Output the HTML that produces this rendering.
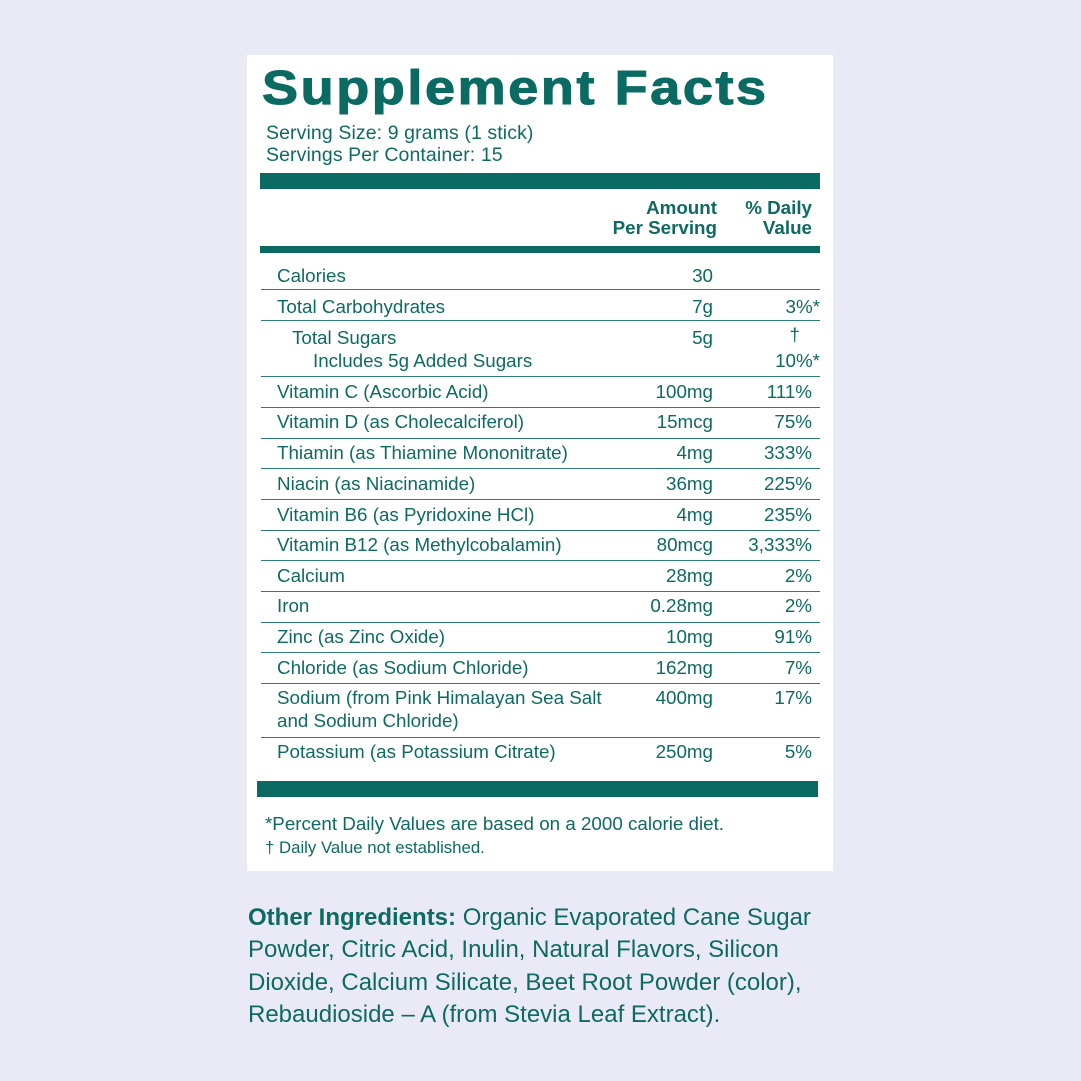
<!DOCTYPE html>
<html><head><meta charset="utf-8"><style>
body{margin:0;width:1081px;height:1081px;background:#e9eaf5;position:relative;overflow:hidden;font-family:"Liberation Sans",Arial,sans-serif;color:#0e6a62}
.p{position:absolute;left:247px;top:55px;width:586px;height:816px;background:#fff}
.a{position:absolute;white-space:nowrap;line-height:20px;font-size:18.8px}
.bar{position:absolute;background:#0b6b63}
.ln{position:absolute;left:261px;width:559px;height:1px;background:#2b7d76}
.r{text-align:right}
.oi{position:absolute;left:248px;font-size:24px;line-height:26px;white-space:nowrap;color:#0e6a62}
</style></head><body>
<div class="p"></div>
<div class="a" style="left:262px;top:58px;font-size:54px;line-height:60px;font-weight:bold;letter-spacing:2.6px;color:#0b6b63;-webkit-text-stroke:1.2px #0b6b63;transform:scaleY(0.9);transform-origin:0 50%">Supplement Facts</div>
<div class="a" style="left:266px;top:123px;font-size:19.5px;letter-spacing:0.1px">Serving Size: 9 grams (1 stick)</div>
<div class="a" style="left:266px;top:145px;font-size:19.5px;letter-spacing:0.1px">Servings Per Container: 15</div>
<div class="bar" style="left:260px;top:173px;width:560px;height:16px"></div>
<div class="a r" style="right:364px;top:198px;font-weight:bold">Amount<br>Per Serving</div>
<div class="a r" style="right:269px;top:198px;font-weight:bold">% Daily<br>Value</div>
<div class="bar" style="left:260px;top:246px;width:560px;height:7px"></div>
<div class="bar" style="left:257px;top:781px;width:561px;height:16px"></div>

<div class="ln" style="top:289px"></div>
<div class="ln" style="top:320px"></div>
<div class="ln" style="top:376px"></div>
<div class="ln" style="top:407px"></div>
<div class="ln" style="top:438px"></div>
<div class="ln" style="top:468px"></div>
<div class="ln" style="top:499px"></div>
<div class="ln" style="top:530px"></div>
<div class="ln" style="top:560px"></div>
<div class="ln" style="top:591px"></div>
<div class="ln" style="top:622px"></div>
<div class="ln" style="top:652px"></div>
<div class="ln" style="top:683px"></div>
<div class="ln" style="top:737px"></div>

<div class="a" style="left:277px;top:266px">Calories</div><div class="a r" style="right:368px;top:266px">30</div>
<div class="a" style="left:277px;top:297px">Total Carbohydrates</div><div class="a r" style="right:368px;top:297px">7g</div><div class="a r" style="right:261px;top:297px">3%*</div>
<div class="a" style="left:292px;top:328px">Total Sugars</div><div class="a r" style="right:368px;top:328px">5g</div><div class="a r" style="right:281px;top:325px">†</div>
<div class="a" style="left:313px;top:351px">Includes 5g Added Sugars</div><div class="a r" style="right:261px;top:351px">10%*</div>
<div class="a" style="left:277px;top:382px">Vitamin C (Ascorbic Acid)</div><div class="a r" style="right:368px;top:382px">100mg</div><div class="a r" style="right:269px;top:382px">111%</div>
<div class="a" style="left:277px;top:412px">Vitamin D (as Cholecalciferol)</div><div class="a r" style="right:368px;top:412px">15mcg</div><div class="a r" style="right:269px;top:412px">75%</div>
<div class="a" style="left:277px;top:443px">Thiamin (as Thiamine Mononitrate)</div><div class="a r" style="right:368px;top:443px">4mg</div><div class="a r" style="right:269px;top:443px">333%</div>
<div class="a" style="left:277px;top:474px">Niacin (as Niacinamide)</div><div class="a r" style="right:368px;top:474px">36mg</div><div class="a r" style="right:269px;top:474px">225%</div>
<div class="a" style="left:277px;top:505px">Vitamin B6 (as Pyridoxine HCl)</div><div class="a r" style="right:368px;top:505px">4mg</div><div class="a r" style="right:269px;top:505px">235%</div>
<div class="a" style="left:277px;top:535px">Vitamin B12 (as Methylcobalamin)</div><div class="a r" style="right:368px;top:535px">80mcg</div><div class="a r" style="right:269px;top:535px">3,333%</div>
<div class="a" style="left:277px;top:566px">Calcium</div><div class="a r" style="right:368px;top:566px">28mg</div><div class="a r" style="right:269px;top:566px">2%</div>
<div class="a" style="left:277px;top:596px">Iron</div><div class="a r" style="right:368px;top:596px">0.28mg</div><div class="a r" style="right:269px;top:596px">2%</div>
<div class="a" style="left:277px;top:627px">Zinc (as Zinc Oxide)</div><div class="a r" style="right:368px;top:627px">10mg</div><div class="a r" style="right:269px;top:627px">91%</div>
<div class="a" style="left:277px;top:658px">Chloride (as Sodium Chloride)</div><div class="a r" style="right:368px;top:658px">162mg</div><div class="a r" style="right:269px;top:658px">7%</div>
<div class="a" style="left:277px;top:688px">Sodium (from Pink Himalayan Sea Salt</div><div class="a r" style="right:368px;top:688px">400mg</div><div class="a r" style="right:269px;top:688px">17%</div>
<div class="a" style="left:277px;top:711px">and Sodium Chloride)</div>
<div class="a" style="left:277px;top:742px">Potassium (as Potassium Citrate)</div><div class="a r" style="right:368px;top:742px">250mg</div><div class="a r" style="right:269px;top:742px">5%</div>

<div class="a" style="left:265px;top:814px">*Percent Daily Values are based on a 2000 calorie diet.</div>
<div class="a" style="left:265px;top:838px;font-size:16.8px">† Daily Value not established.</div>

<div class="oi" style="top:905px"><b>Other Ingredients:</b> Organic Evaporated Cane Sugar</div>
<div class="oi" style="top:937px">Powder, Citric Acid, Inulin, Natural Flavors, Silicon</div>
<div class="oi" style="top:970px">Dioxide, Calcium Silicate, Beet Root Powder (color),</div>
<div class="oi" style="top:1002px">Rebaudioside – A (from Stevia Leaf Extract).</div>
</body></html>
